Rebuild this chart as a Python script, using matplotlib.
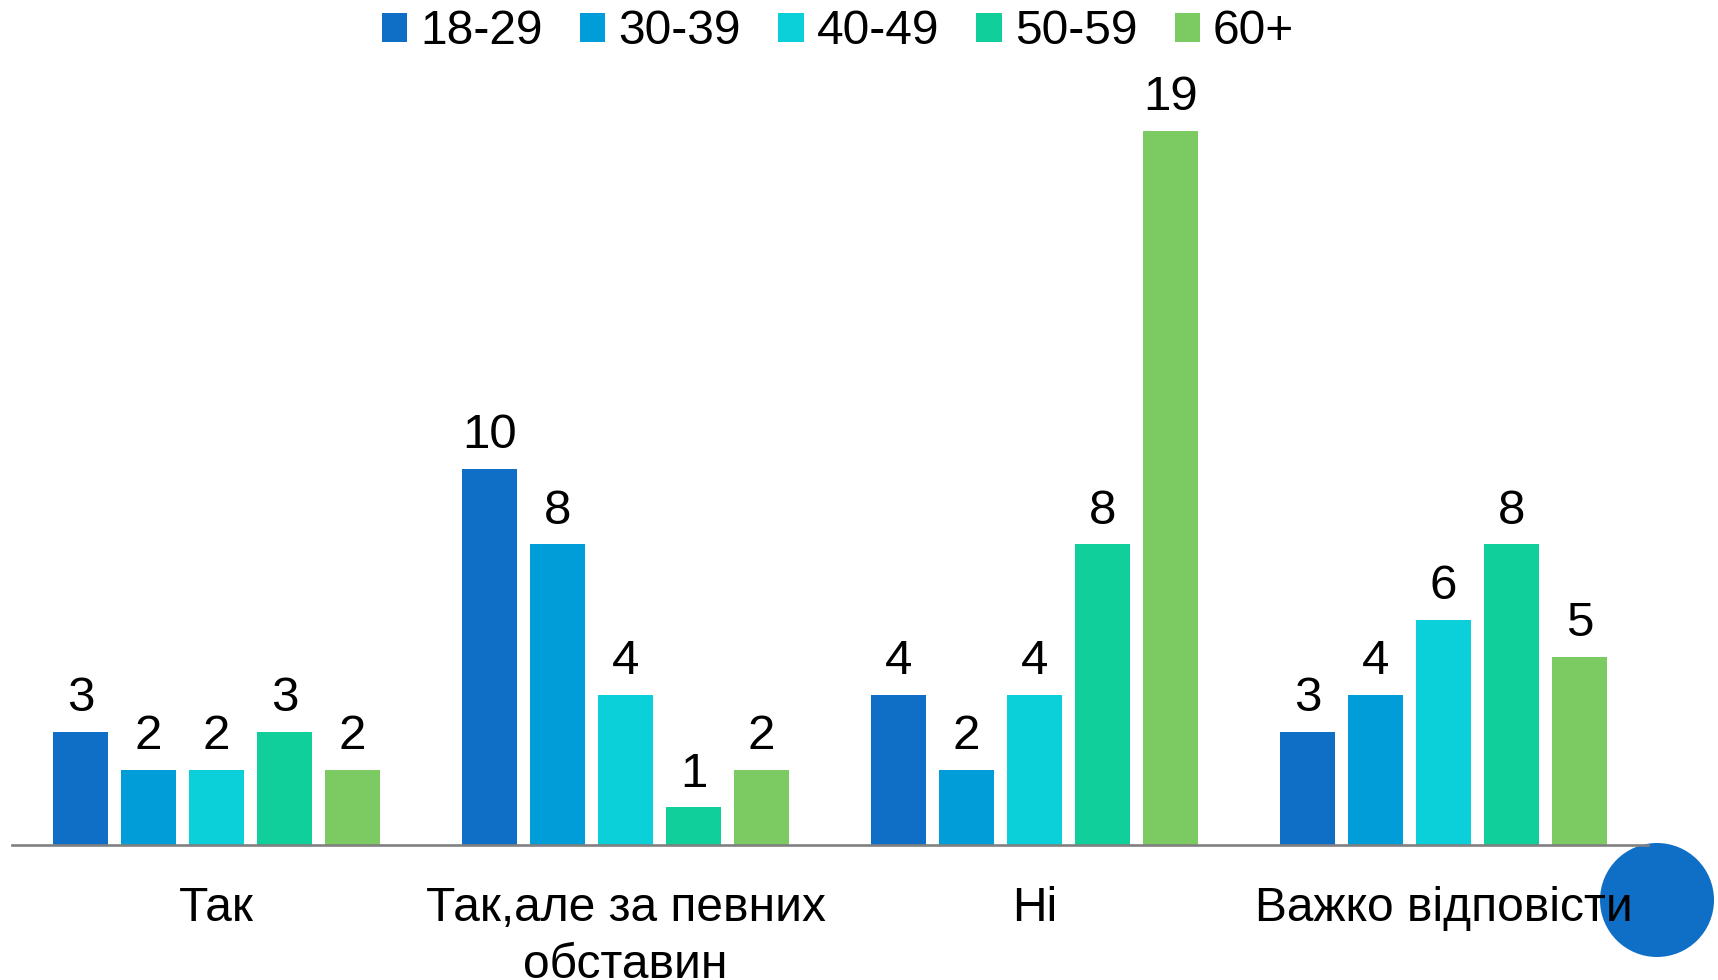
import matplotlib
matplotlib.use("Agg")
import matplotlib.pyplot as plt
import matplotlib.transforms as mtransforms
from matplotlib.patches import Ellipse
import numpy as np

categories = ["Так", "Так,але за певних\nобставин", "Ні", "Важко відповісти"]
series_names = ["18-29", "30-39", "40-49", "50-59", "60+"]
values_18_29 = [3, 10, 4, 3]
values_30_39 = [2, 8, 2, 4]
values_40_49 = [2, 4, 4, 6]
values_50_59 = [3, 1, 8, 8]
values_60_plus = [2, 2, 19, 5]
series_values = [values_18_29, values_30_39, values_40_49, values_50_59, values_60_plus]
colors = ["#0F6FC6", "#009DD9", "#0BD0D9", "#10CF9B", "#7CCA62"]

plt.rcParams['font.family'] = ['Liberation Sans', 'DejaVu Sans']

W, H = 1718, 980
fig = plt.figure(figsize=(W / 100, H / 100), dpi=100)
fig.patch.set_facecolor("white")

ax_left = 12 / W
ax_right = 1648 / W
ax_bottom = 1 - 845 / H
unit_px = 37.58
ymax = 20
ax_top_px = 845 - ymax * unit_px
ax = fig.add_axes([ax_left, ax_bottom, ax_right - ax_left, (845 - ax_top_px) / H])
ax.patch.set_visible(False)

x = np.arange(len(categories))
pitch = 68 / 409
bw = 55 / 409
for j, (name, vals, c) in enumerate(zip(series_names, series_values, colors)):
    xs = x + (j - 2) * pitch
    ax.bar(xs, vals, width=bw, color=c, label=name, zorder=2)
    for xi, v in zip(xs, vals):
        ax.annotate(str(v), (xi, v), xytext=(0, 15), textcoords="offset points",
                    ha="center", va="baseline", fontsize=35.5, color="black")

ax.set_xlim(-0.5, 3.5)
ax.set_ylim(0, ymax)
for s in ["top", "right", "left"]:
    ax.spines[s].set_visible(False)
ax.spines["bottom"].set_color("#808080")
ax.spines["bottom"].set_linewidth(1.9)
ax.spines["bottom"].set_zorder(3)
ax.set_yticks([])
ax.set_xticks([])

trans = mtransforms.blended_transform_factory(ax.transData, fig.transFigure)
line_gap_px = 57
for xi, cat in zip(x, categories):
    for k, line in enumerate(cat.split("\n")):
        fig.text(xi, 1 - (921 + k * line_gap_px) / H, line, transform=trans,
                 ha="center", va="baseline", fontsize=34.5, color="black", zorder=5)

fig.legend(loc="center", bbox_to_anchor=(838 / W, 1 - 32 / H), ncol=5,
           frameon=False, fontsize=34.5, handlelength=0.53, handleheight=0.53,
           handletextpad=0.27, columnspacing=0.78, borderpad=0, borderaxespad=0)

circle = Ellipse((1657 / W, 1 - 900 / H), width=114 / W, height=114 / H,
                 transform=fig.transFigure, facecolor="#0F6FC6", edgecolor="none", zorder=-1)
fig.patches.append(circle)

fig.savefig("out.png", dpi=100)
